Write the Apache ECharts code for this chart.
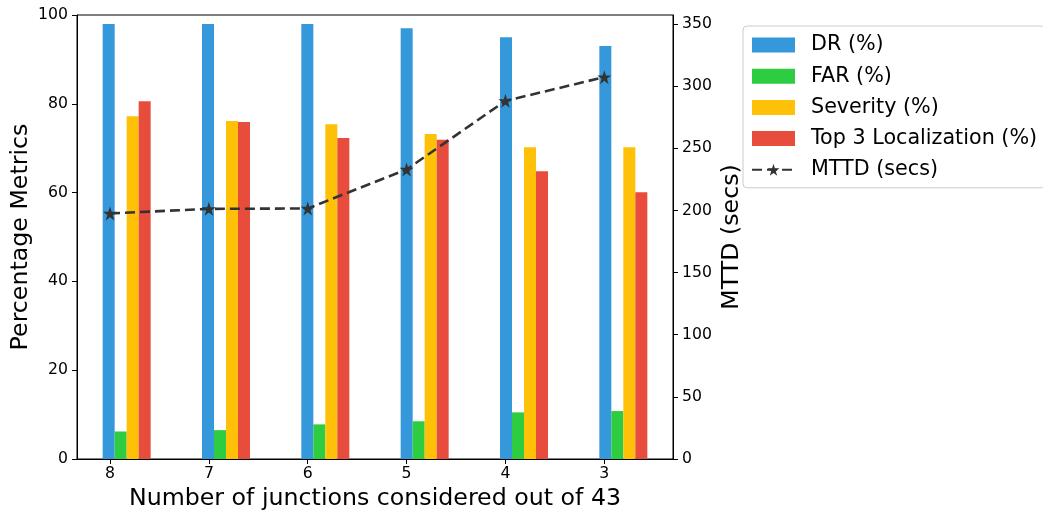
<!DOCTYPE html>
<html>
<head>
<meta charset="utf-8">
<script src="https://cdn.jsdelivr.net/npm/echarts@6/dist/echarts.min.js"></script>
<style>
html,body{margin:0;padding:0;background:#fff;}
#chart{width:1043px;height:510px;}
</style>
</head>
<body>
<div id="chart"></div>
<script>
const categories = ['8', '7', '6', '5', '4', '3'];
const drValues = [98, 98, 98, 97, 95, 93];
const farValues = [6.2, 6.5, 7.8, 8.5, 10.5, 10.8];
const severityValues = [77.2, 76.1, 75.4, 73.2, 70.2, 70.2];
const top3Values = [80.6, 75.9, 72.3, 71.9, 64.8, 60.1];
const mttdValues = [197.6, 201.3, 201.6, 233.0, 288.2, 307.3];
const leftTicks = [0, 20, 40, 60, 80, 100];
const rightTicks = [0, 50, 100, 150, 200, 250, 300, 350];

const FONT = 'DejaVu Sans';
const STAR = 'path://M50,0 L61.2,34.5 L97.6,34.5 L68.2,55.9 L79.4,90.5 L50,69.1 L20.6,90.5 L31.8,55.9 L2.4,34.5 L38.8,34.5 Z';
const rightMax = Math.max(...mttdValues) + 50;

const chart = echarts.init(document.getElementById('chart'), null, {renderer: 'canvas'});

const barSeries = (name, data, color) => ({
  name, type: 'bar', xAxisIndex: 0, yAxisIndex: 0,
  data, barWidth: 12, barGap: '0%',
  itemStyle: {color},
  emphasis: {disabled: true}
});

const option = {
  animation: false,
  backgroundColor: '#fff',
  textStyle: {fontFamily: FONT},
  grid: {left: 77, right: 370, top: 15, bottom: 51, containLabel: false, outerBoundsMode: 'none',
    show: true, borderColor: '#000', borderWidth: 1, backgroundColor: 'transparent'},
  legend: {
    orient: 'vertical', left: 743, top: 26,
    padding: [7, 8, 6, 8],
    itemWidth: 43, itemHeight: 15, itemGap: 7.2,
    borderColor: '#cccccc', borderWidth: 1, borderRadius: 4,
    backgroundColor: 'rgba(255,255,255,0.8)',
    textStyle: {fontFamily: FONT, fontSize: 20.7, color: '#000', lineHeight: 24, padding: [0, 0, 0, 11]},
    data: [
      {name: 'DR (%)', icon: 'rect'},
      {name: 'FAR (%)', icon: 'rect'},
      {name: 'Severity (%)', icon: 'rect'},
      {name: 'Top 3 Localization (%)', icon: 'rect'},
      {name: 'MTTD (secs)'}
    ]
  },
  xAxis: [
    {
      type: 'category', data: categories, boundaryGap: true, position: 'bottom',
      axisLine: {show: false, onZero: false}, axisTick: {show: false}, axisLabel: {show: false}, splitLine: {show: false}
    },
    {
      type: 'value', min: -0.334, max: 5.695, position: 'bottom',
      axisLine: {show: true, onZero: false, lineStyle: {color: '#000', width: 1}},
      axisTick: {show: true, length: 5, lineStyle: {color: '#000', width: 1}, customValues: categories.map((c, i) => i)},
      axisLabel: {show: true, margin: 7, fontFamily: FONT, fontSize: 15.7, color: '#000',
        customValues: categories.map((c, i) => i),
        formatter: v => categories[Math.round(v)]},
      splitLine: {show: false},
      name: 'Number of junctions considered out of 43',
      nameLocation: 'middle', nameGap: 28, nameMoveOverlap: false,
      nameTextStyle: {fontFamily: FONT, fontSize: 23.7, color: '#000'}
    }
  ],
  yAxis: [
    {
      type: 'value', min: 0, max: 100, position: 'left',
      axisLine: {show: true, onZero: false, lineStyle: {color: '#000', width: 1}},
      axisTick: {show: true, length: 5, lineStyle: {color: '#000', width: 1}, customValues: leftTicks},
      axisLabel: {margin: 9, fontFamily: FONT, fontSize: 15.7, color: '#000', customValues: leftTicks},
      splitLine: {show: false},
      name: 'Percentage Metrics', nameLocation: 'middle', nameGap: 44, nameRotate: 90, nameMoveOverlap: false,
      nameTextStyle: {fontFamily: FONT, fontSize: 23.7, color: '#000'}
    },
    {
      type: 'value', min: 0, max: rightMax, position: 'right',
      axisLine: {show: true, onZero: false, lineStyle: {color: '#000', width: 1}},
      axisTick: {show: true, length: 5, lineStyle: {color: '#000', width: 1}, customValues: rightTicks},
      axisLabel: {margin: 9, fontFamily: FONT, fontSize: 15.7, color: '#000', customValues: rightTicks},
      splitLine: {show: false},
      name: 'MTTD (secs)', nameLocation: 'middle', nameGap: 47, nameRotate: 90, nameMoveOverlap: false,
      nameTextStyle: {fontFamily: FONT, fontSize: 23.7, color: '#000'}
    }
  ],
  series: [
    barSeries('DR (%)', drValues, '#3498db'),
    barSeries('FAR (%)', farValues, '#2ecc40'),
    barSeries('Severity (%)', severityValues, '#ffc107'),
    barSeries('Top 3 Localization (%)', top3Values, '#e74c3c'),
    {
      name: 'MTTD (secs)', type: 'line', xAxisIndex: 1, yAxisIndex: 1,
      data: mttdValues.map((v, i) => [i, v]),
      symbol: STAR, symbolSize: 14, showSymbol: true,
      lineStyle: {color: '#333333', width: 2.6, type: [10, 5]},
      itemStyle: {color: '#333333'},
      emphasis: {disabled: true},
      z: 5
    }
  ]
};
chart.setOption(option);
</script>
</body>
</html>
